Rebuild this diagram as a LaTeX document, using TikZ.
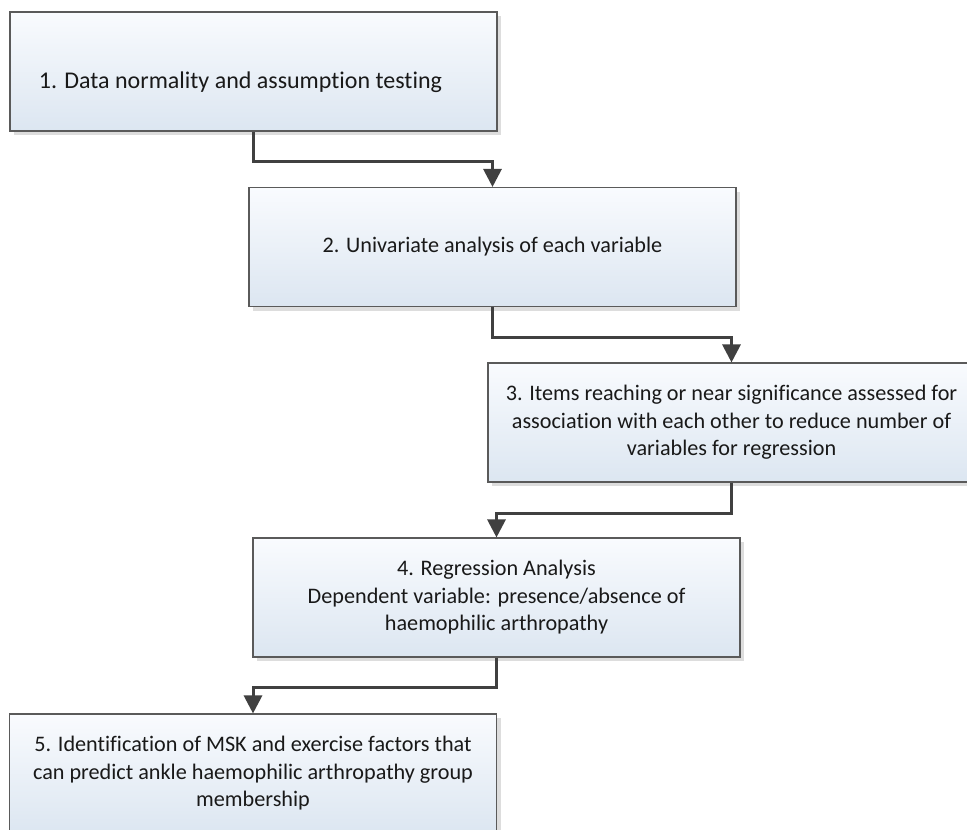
\documentclass[tikz,border=0pt]{standalone}
\usepackage{fontspec}
\setmainfont{Carlito}[Ligatures=NoCommon]
\usetikzlibrary{arrows.meta,shadows}
\definecolor{boxtop}{HTML}{F9FBFE}
\definecolor{boxbottom}{HTML}{DCE6F1}
\definecolor{boxline}{HTML}{5A5A5A}
\definecolor{shade}{HTML}{DDDDDD}
\definecolor{connline}{HTML}{404040}
\tikzset{
  stepbox/.style={
    draw=boxline, line width=1.1pt,
    top color=boxtop, bottom color=boxbottom,
    general shadow={fill=shade, shadow xshift=4pt, shadow yshift=-4pt},
    minimum width=487pt, minimum height=119pt,
    align=center, inner sep=0pt, text=black!90,
    font=\fontsize{22.2}{27.5}\selectfont
  },
  bigtext/.style={
    align=center, inner sep=0pt, text=black!90,
    font=\fontsize{24}{29}\selectfont
  },
  conn/.style={
    draw=connline, line width=3pt,
    -{Triangle[width=18pt,length=18pt]}
  }
}
\begin{document}
\begin{tikzpicture}[x=1pt,y=1pt]
  \clip (0,0) rectangle (967,-830);
  \fill[white] (0,0) rectangle (967,-830);

  \node[stepbox] (b1) at (253.5,-71.5) {};
  \node[bigtext, anchor=base] (t1) at (240.5,-88) {1. Data normality and assumption testing};
  \node[stepbox] (b2) at (492.5,-247) {2. Univariate analysis of each variable};
  \node[stepbox] (b3) at (731.5,-422.5) {3. Items reaching or near significance assessed for\\association with each other to reduce number of\\variables for regression};
  \node[stepbox] (b4) at (496.5,-597.5) {4. Regression Analysis\\Dependent variable: presence/absence of\\haemophilic arthropathy};
  \node[stepbox] (b5) at (253,-773.5) {5. Identification of MSK and exercise factors that\\can predict ankle haemophilic arthropathy group\\membership};

  \draw[conn] (b1.south) -- ++(0,-30) -| (b2.north);
  \draw[conn] (b2.south) -- ++(0,-30) -| (b3.north);
  \draw[conn] (b3.south) -- ++(0,-31) -| (b4.north);
  \draw[conn] (b4.south) -- ++(0,-30) -| (b5.north);
\end{tikzpicture}
\end{document}
